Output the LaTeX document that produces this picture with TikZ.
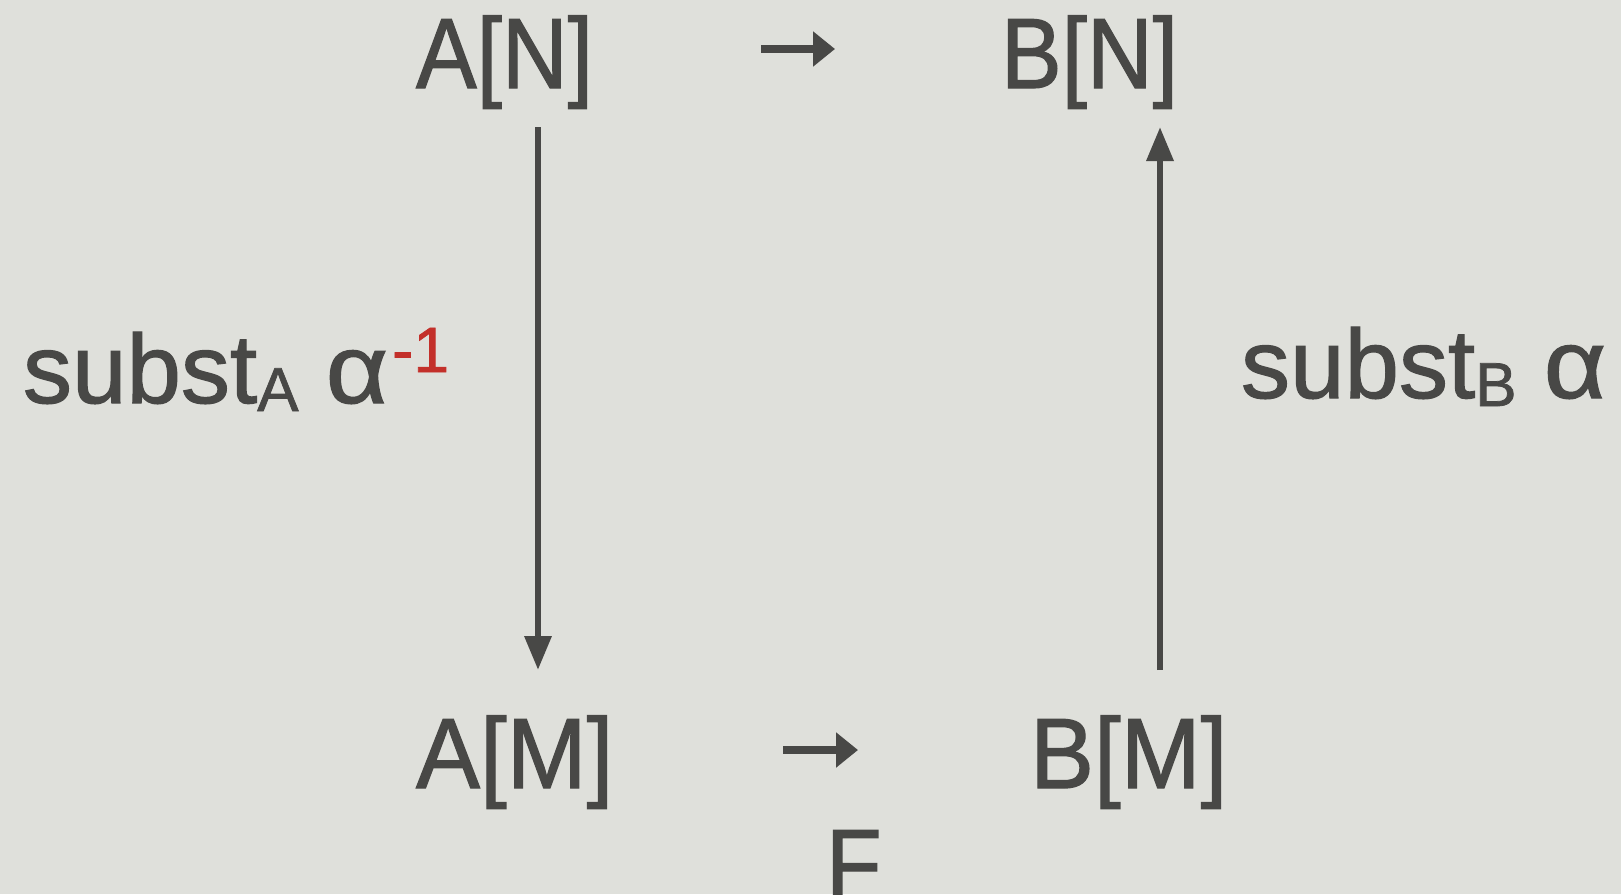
\documentclass[tikz,border=0pt]{standalone}
\usepackage{fontspec}
\setmainfont{Liberation Sans}[FakeBold=1.2]
\newfontfamily\condfont[FakeStretch=0.91,FakeBold=1.2]{Liberation Sans}
\newfontfamily\condMfont[FakeStretch=0.96,FakeBold=1.2]{Liberation Sans}
\usetikzlibrary{arrows.meta}
\definecolor{bg}{HTML}{DFE0DB}
\definecolor{ink}{HTML}{484846}
\definecolor{redx}{HTML}{C3302A}
\begin{document}
\begin{tikzpicture}[x=0.5pt,y=-0.5pt,
  every node/.style={inner sep=0pt, outer sep=0pt, text=ink},
  big/.style={font=\condfont\fontsize{50pt}{60pt}\selectfont, anchor=base west},
  bigM/.style={font=\condMfont\fontsize{50pt}{60pt}\selectfont, anchor=base west},
  lab/.style={font=\fontsize{49pt}{58pt}\selectfont, anchor=base west},
  varrow/.style={draw=ink, line width=3.2pt, -{Triangle[length=17pt,width=13pt]}},
  harrow/.style={draw=ink, line width=4pt, -{Triangle[length=11pt,width=17pt]}}]
\fill[bg] (0,0) rectangle (1621,894);
\useasboundingbox (0,0) rectangle (1621,894);
\node[big] (AN) at (416,88) {A[N]};
\node[big] (BN) at (1001,88) {B[N]};
\node[bigM] (AM) at (416,788) {A[M]};
\node[bigM] (BM) at (1030,788) {B[M]};
\node[big] (F) at (826,899) {F};
\node[lab] (sA) at (23,403) {subst{\fontsize{31pt}{31pt}\selectfont\raisebox{-4pt}{A}} \scalebox{1.1}[1]{α}\kern2pt{\color{redx}\fontsize{32pt}{32pt}\selectfont\raisebox{15.5pt}{-1}}};
\node[lab] (sB) at (1241,398) {subst{\fontsize{31pt}{31pt}\selectfont\raisebox{-4pt}{B}} \scalebox{1.1}[1]{α}};
\coordinate (l1) at (538,127);
\coordinate (l2) at (538,670);
\coordinate (r1) at (1160,670);
\coordinate (r2) at (1160,127);
\coordinate (t1) at (761,49);
\coordinate (t2) at (835,49);
\coordinate (b1) at (783,750);
\coordinate (b2) at (858,750);
\draw[varrow] (l1) -- (l2);
\draw[varrow] (r1) -- (r2);
\draw[harrow] (t1) -- (t2);
\draw[harrow] (b1) -- (b2);
\end{tikzpicture}
\end{document}
